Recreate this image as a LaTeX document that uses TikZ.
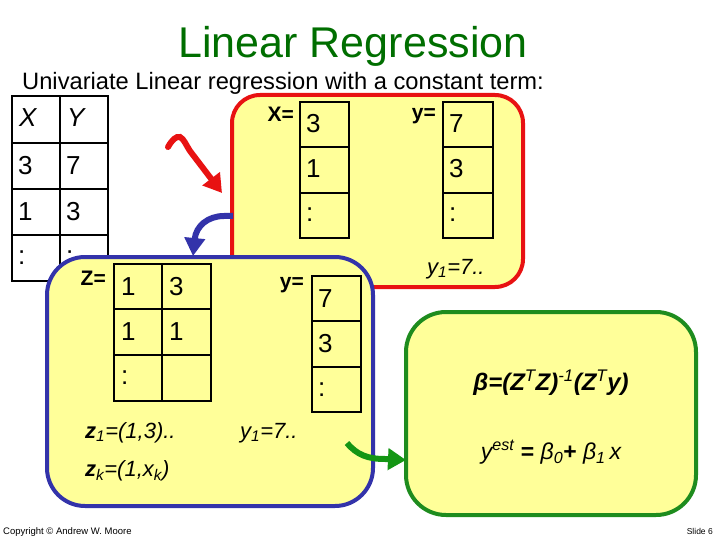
\documentclass[tikz,border=0pt]{standalone}
\usepackage{fontspec}
\setmainfont{Liberation Sans}
\usetikzlibrary{arrows.meta}
\definecolor{boxfill}{RGB}{255,255,153}
\definecolor{myred}{RGB}{232,18,18}
\definecolor{myblue}{RGB}{51,51,170}
\definecolor{mygreen}{RGB}{30,140,30}
\definecolor{titlegreen}{RGB}{0,110,0}
\definecolor{arrowgreen}{RGB}{20,150,20}
\newcommand{\fs}[1]{\fontsize{#1}{#1}\selectfont}
\begin{document}
\begin{tikzpicture}[x=1pt,y=-1pt,
  cell/.style={draw=black,line width=2.6pt,anchor=north west,inner sep=0pt,outer sep=0pt,minimum width=48pt,minimum height=46pt},
  val/.style={anchor=base west,inner sep=0pt,font=\fs{26}},
  lbl/.style={anchor=base east,inner sep=0pt,font=\fs{21}\bfseries},
  itx/.style={anchor=base west,inner sep=0pt,font=\fs{22}\itshape},
  panel/.style={line width=4pt,fill=boxfill,anchor=north west,inner sep=0pt,outer sep=0pt},
  fat/.style={line width=6pt},
]
\useasboundingbox (0,0) rectangle (720,540);

% title
\node[anchor=base,inner sep=0pt,font=\fs{43},text=titlegreen] (title) at (353,58) {Linear Regression};
\node[anchor=base west,inner sep=0pt,font=\fs{23.7}] (sub) at (22,90) {Univariate Linear regression with a constant term:};

% left table
\node[cell,minimum height=47pt] (a0) at (12,96) {};
\node[cell,minimum height=47pt] (b0) at (60,96) {};
\node[cell] (a1) at (12,143) {};
\node[cell] (b1) at (60,143) {};
\node[cell] (a2) at (12,189) {};
\node[cell] (b2) at (60,189) {};
\node[cell] (a3) at (12,235) {};
\node[cell] (b3) at (60,235) {};
\node[val,font=\fs{26}\itshape] (ta0) at ([shift={(7,31)}]a0.north west) {X};
\node[val,font=\fs{26}\itshape] (tb0) at ([shift={(7,31)}]b0.north west) {Y};
\node[val] (ta1) at ([shift={(6,32)}]a1.north west) {3};
\node[val] (tb1) at ([shift={(6,32)}]b1.north west) {7};
\node[val] (ta2) at ([shift={(6,32)}]a2.north west) {1};
\node[val] (tb2) at ([shift={(6,32)}]b2.north west) {3};
\node[val] (ta3) at ([shift={(6,29)}]a3.north west) {:};
\node[val] (tb3) at ([shift={(6,29)}]b3.north west) {:};

% red panel
\node[panel,draw=myred,rounded corners=28pt,minimum width=291pt,minimum height=192pt] (redbox) at (232,95) {};
\node[cell,minimum width=49pt,minimum height=45pt] (x1) at (300,102) {};
\node[cell,minimum width=49pt,minimum height=46pt] (x2) at (300,147) {};
\node[cell,minimum width=49pt,minimum height=45pt] (x3) at (300,193) {};
\node[cell,minimum width=50pt,minimum height=45pt] (y1) at (443,102) {};
\node[cell,minimum width=50pt,minimum height=46pt] (y2) at (443,147) {};
\node[cell,minimum width=50pt,minimum height=45pt] (y3) at (443,193) {};
\node[val] (tx1) at ([shift={(6,31)}]x1.north west) {3};
\node[val] (tx2) at ([shift={(6,31)}]x2.north west) {1};
\node[val] (tx3) at ([shift={(6,29)}]x3.north west) {:};
\node[val] (ty1) at ([shift={(6,31)}]y1.north west) {7};
\node[val] (ty2) at ([shift={(6,31)}]y2.north west) {3};
\node[val] (ty3) at ([shift={(6,29)}]y3.north west) {:};
\node[lbl] (xl) at (294,122) {X=};
\node[lbl] (yl) at (436,120) {y=};
\node[itx] (ry1) at (427,274) {y\textsubscript{1}=7..};

% red arrow
\coordinate (rs) at (168,147);
\coordinate (rt) at (222,193);
\draw[fat,myred,line cap=round,-{Triangle[length=18pt,width=21pt]}]
  (rs) .. controls (172,140) and (176,136) .. (180,137)
       .. controls (184,139) and (186,145) .. (190,151) -- (rt);

% blue panel
\node[panel,draw=myblue,rounded corners=38pt,minimum width=326pt,minimum height=249pt] (bluebox) at (47,257) {};
\node[cell,minimum width=48pt,minimum height=45pt] (z11) at (114,264) {};
\node[cell,minimum width=49pt,minimum height=45pt] (z12) at (162,264) {};
\node[cell,minimum width=48pt,minimum height=46pt] (z21) at (114,309) {};
\node[cell,minimum width=49pt,minimum height=46pt] (z22) at (162,309) {};
\node[cell,minimum width=48pt,minimum height=46pt] (z31) at (114,355) {};
\node[cell,minimum width=49pt,minimum height=46pt] (z32) at (162,355) {};
\node[val] (tz11) at ([shift={(7,31)}]z11.north west) {1};
\node[val] (tz12) at ([shift={(7,31)}]z12.north west) {3};
\node[val] (tz21) at ([shift={(7,31)}]z21.north west) {1};
\node[val] (tz22) at ([shift={(7,31)}]z22.north west) {1};
\node[val] (tz31) at ([shift={(7,29)}]z31.north west) {:};
\node[cell,minimum width=49pt,minimum height=45pt] (w1) at (312,276) {};
\node[cell,minimum width=49pt,minimum height=46pt] (w2) at (312,321) {};
\node[cell,minimum width=49pt,minimum height=45pt] (w3) at (312,367) {};
\node[val] (tw1) at ([shift={(6,31)}]w1.north west) {7};
\node[val] (tw2) at ([shift={(6,31)}]w2.north west) {3};
\node[val] (tw3) at ([shift={(6,29)}]w3.north west) {:};
\node[lbl] (zl) at (106,285) {Z=};
\node[lbl] (wl) at (304,288) {y=};
\node[itx] (z1t) at (85,438) {\textbf{z}\textsubscript{1}=(1,3)..};
\node[itx] (zkt) at (85,476) {\textbf{z}\textsubscript{k}=(1,x\textsubscript{k})};
\node[itx] (by1) at (240,438) {y\textsubscript{1}=7..};

% blue arrow
\coordinate (bs) at (233,216);
\coordinate (bt) at (193,256);
\draw[fat,myblue,-{Triangle[length=18pt,width=20pt]}]
  (bs) -- (224,216) .. controls (208,216) and (196,226) .. (bt);

% green panel
\node[panel,draw=mygreen,rounded corners=40pt,minimum width=290pt,minimum height=203pt] (greenbox) at (406,312) {};
\node[anchor=center,inner sep=0pt,font=\fs{24}\bfseries\itshape] (beta) at (551,383)
  {β=(Z\textsuperscript{\mdseries T}Z)\textsuperscript{\mdseries -1}(Z\textsuperscript{\mdseries T}y)};
\node[anchor=center,inner sep=0pt,font=\fs{23}\itshape] (yest) at (551,452)
  {y\textsuperscript{est} \textbf{\upshape =} β\textsubscript{0}\textbf{\upshape +} β\textsubscript{1}\,x};

% green arrow
\coordinate (gs) at (347,443);
\coordinate (gt) at (406,460);
\draw[fat,arrowgreen,-{Triangle[length=18pt,width=21pt]}]
  (gs) .. controls (357,455) and (368,459) .. (385,459) -- (gt);

% footer
\node[anchor=base west,inner sep=0pt,font=\fs{9.5}] (copy) at (3,534) {Copyright © Andrew W. Moore};
\node[anchor=base east,inner sep=0pt,font=\fs{8.5}] (slide) at (713,534) {Slide 6};
\end{tikzpicture}
\end{document}
